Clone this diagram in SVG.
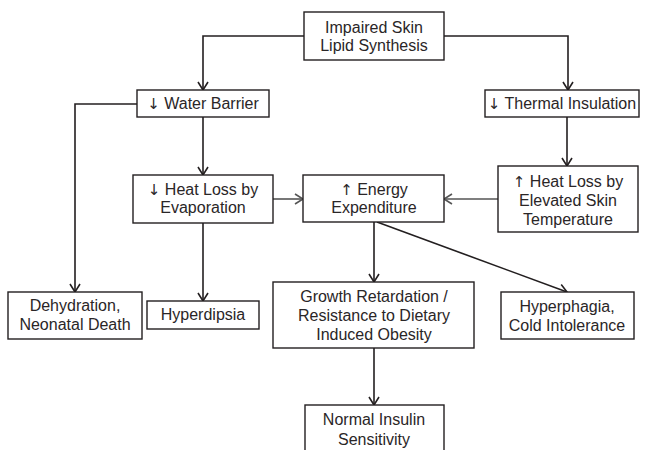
<svg xmlns="http://www.w3.org/2000/svg" width="647" height="450" viewBox="0 0 647 450">
<defs>
<style>
.box{fill:#fff;stroke:#231f20;stroke-width:1.4}
.t{font-family:"Liberation Sans",Arial,sans-serif;font-size:16px;fill:#2a2627;text-anchor:middle}
.ar{font-family:"DejaVu Sans",sans-serif;font-size:15px;fill:#2a2627}
.c{fill:none;stroke:#231f20;stroke-width:1.6}
.g{fill:none;stroke:#555;stroke-width:1.6}
</style>
<marker id="a" markerUnits="userSpaceOnUse" markerWidth="14" markerHeight="14" refX="10" refY="6" orient="auto" viewBox="0 0 14 12">
<path d="M2,1 L10,6 L2,11" fill="none" stroke="#231f20" stroke-width="1.6"/>
</marker>
<marker id="ag" markerUnits="userSpaceOnUse" markerWidth="14" markerHeight="14" refX="10" refY="6" orient="auto" viewBox="0 0 14 12">
<path d="M2,1 L10,6 L2,11" fill="none" stroke="#555" stroke-width="1.6"/>
</marker>
</defs>
<rect width="647" height="450" fill="#fff"/>
<g id="connectors">
<path class="c" d="M304,36 H203 V90" marker-end="url(#a)"/>
<path class="c" d="M444,36 H568 V90" marker-end="url(#a)"/>
<path class="c" d="M137,104 H75 V292" marker-end="url(#a)"/>
<path class="c" d="M203,117 V175" marker-end="url(#a)"/>
<path class="c" d="M203,223 V301" marker-end="url(#a)"/>
<path class="g" d="M273,199 H303" marker-end="url(#ag)"/>
<path class="g" d="M498,199 H444" marker-end="url(#ag)"/>
<path class="c" d="M567,117 V166" marker-end="url(#a)"/>
<path class="c" d="M374,222 V282" marker-end="url(#a)"/>
<path class="c" d="M377,222 L567,292" marker-end="url(#a)"/>
<path class="c" d="M374,348 V405" marker-end="url(#a)"/>
</g>
<g id="n1"><rect class="box" x="304" y="12" width="140" height="48"/><text class="t" x="374" y="33">Impaired Skin</text><text class="t" x="374" y="51">Lipid Synthesis</text></g>
<g id="n2"><rect class="box" x="137" y="90" width="132" height="27"/><text class="t" x="203" y="109"><tspan class="ar">↓</tspan> Water Barrier</text></g>
<g id="n3"><rect class="box" x="485" y="90" width="154" height="27"/><text class="t" x="562" y="109"><tspan class="ar">↓</tspan> Thermal Insulation</text></g>
<g id="n4"><rect class="box" x="133" y="175" width="140" height="48"/><text class="t" x="203" y="195"><tspan class="ar">↓</tspan> Heat Loss by</text><text class="t" x="203" y="213">Evaporation</text></g>
<g id="n5"><rect class="box" x="303" y="175" width="141" height="47"/><text class="t" x="374" y="195"><tspan class="ar">↑</tspan> Energy</text><text class="t" x="374" y="213">Expenditure</text></g>
<g id="n6"><rect class="box" x="498" y="166" width="140" height="66"/><text class="t" x="568" y="187"><tspan class="ar">↑</tspan> Heat Loss by</text><text class="t" x="568" y="206">Elevated Skin</text><text class="t" x="568" y="225">Temperature</text></g>
<g id="n7"><rect class="box" x="8" y="292" width="134" height="47"/><text class="t" x="75" y="311">Dehydration,</text><text class="t" x="75" y="330">Neonatal Death</text></g>
<g id="n8"><rect class="box" x="147" y="301" width="112" height="28"/><text class="t" x="203" y="320">Hyperdipsia</text></g>
<g id="n9"><rect class="box" x="273" y="282" width="201" height="66"/><text class="t" x="374" y="302">Growth Retardation /</text><text class="t" x="374" y="321">Resistance to Dietary</text><text class="t" x="374" y="340">Induced Obesity</text></g>
<g id="n10"><rect class="box" x="501" y="292" width="133" height="47"/><text class="t" x="567" y="312">Hyperphagia,</text><text class="t" x="567" y="331">Cold Intolerance</text></g>
<g id="n11"><rect class="box" x="305" y="405" width="139" height="60"/><text class="t" x="374" y="425">Normal Insulin</text><text class="t" x="374" y="445">Sensitivity</text></g>
</svg>
